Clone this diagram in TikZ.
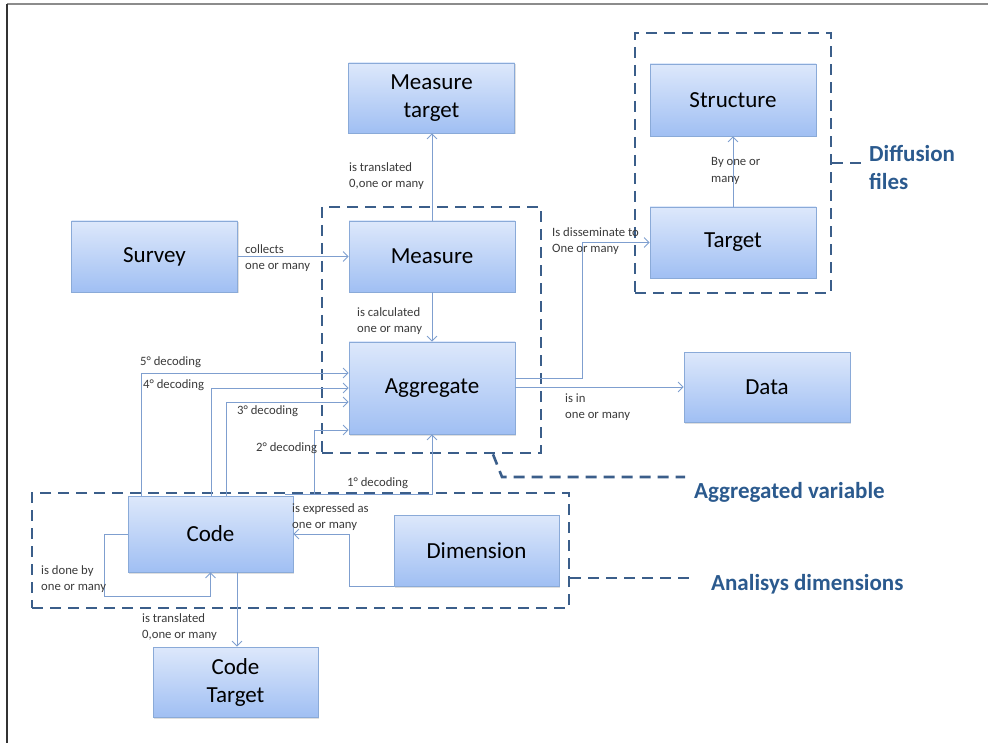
\documentclass[tikz,border=0pt]{standalone}
\usepackage{fontspec}
\setmainfont{Carlito}
\usetikzlibrary{arrows.meta,shadows,calc}
\definecolor{cline}{HTML}{7F9FCF}
\definecolor{cborder}{HTML}{8AAAD8}
\definecolor{ctop}{HTML}{DDE8FB}
\definecolor{cbot}{HTML}{A0BFF3}
\definecolor{cframe}{HTML}{3B5E8A}
\definecolor{ctext}{HTML}{2B5A8E}
\definecolor{clabel}{HTML}{3A3A3A}
\begin{document}
\begin{tikzpicture}[x=1pt,y=-1pt,
  box/.style={draw=cborder, line width=0.8pt, top color=ctop, bottom color=cbot,
    minimum width=166pt, minimum height=71pt, inner sep=0pt, align=center,
    font=\fontsize{23}{28}\selectfont,
    drop shadow={opacity=0.25,shadow xshift=1.2pt,shadow yshift=-1.5pt}},
  frame/.style={draw=cframe, line width=2.6pt, dash pattern=on 11pt off 7pt, inner sep=0pt},
  callout/.style={draw=cframe, line width=2.6pt, dash pattern=on 11pt off 7pt},
  call/.style={font=\bfseries\fontsize{23}{28}\selectfont, text=ctext, align=left, anchor=west, inner sep=0pt},
  conn/.style={draw=cline, line width=0.8pt, -{Straight Barb[length=5pt,width=10pt]}},
  lab/.style={font=\fontsize{12.7}{16.5}\selectfont, text=clabel, align=left, anchor=west, inner sep=0pt}]
\useasboundingbox (0,0) rectangle (988,743);
\draw[black!45, line width=2pt] (7,4.5) -- (988,4.5);
\draw[black!80, line width=1.5pt] (7,4) -- (7,743);

% group frames
\node[frame, minimum width=196pt, minimum height=260pt] (fdiff) at (733,163) {};
\node[frame, minimum width=219pt, minimum height=246pt] (fagg) at (431.5,330) {};
\node[frame, minimum width=537pt, minimum height=115pt] (fana) at (300.5,550.5) {};

% callouts
\node[call] (ldiff) at (869,168) {Diffusion\\files};
\node[call] (lagg) at (694,492) {Aggregated variable};
\node[call] (lana) at (711,584) {Analisys dimensions};
\draw[callout, shorten >=6pt] (fdiff.east) -- (fdiff.east -| ldiff.west);
\draw[callout, shorten >=9pt] (fagg.south -| 493,0) -- (502,477) -- (lagg.west |- 0,477);
\draw[callout, shorten >=16pt] (fana.east |- 0,578) -- (lana.west |- 0,578);

% boxes
\node[box, minimum height=70pt] (mt) at (431.5,98) {Measure\\target};
\node[box] (survey) at (154.5,256.5) {Survey};
\node[box] (measure) at (432,256.5) {Measure};
\node[box, minimum height=92pt] (agg) at (432,388) {Aggregate};
\node[box, minimum height=70pt] (data) at (767,387) {Data};
\node[box, minimum height=72pt] (struct) at (733,100) {Structure};
\node[box] (target) at (733,242.5) {Target};
\node[box, minimum width=165pt, minimum height=76pt] (code) at (210.5,534) {Code};
\node[box, minimum width=165pt] (dim) at (476.5,550.5) {Dimension};
\node[box, minimum width=165pt, minimum height=70pt] (ct) at (235.5,682) {Code\\Target};

% connectors
\draw[conn] (survey) -- (measure);
\draw[conn] (measure.north) -- (measure.north |- mt.south);
\draw[conn] (measure.south) -- (agg.north);
\draw[conn] (agg.east |- 0,378) -- (582,378) |- (target.west);
\draw[conn] (agg.east |- data.west) -- (data.west);
\draw[conn] (target.north) -- (struct.south);
\draw[conn] (code.north -| 141,0) |- (agg.west |- 0,373);
\draw[conn] (code.north -| 211,0) |- (agg.west);
\draw[conn] (code.north -| 226,0) |- (agg.west |- 0,402);
\coordinate (d1) at (285,494);
\coordinate (d2) at (314,494);
\draw[conn] (d1) -| (agg.south);
\draw[conn] (d2) |- (agg.west |- 0,430);
\draw[conn] (code.west) -- ++(-23,0) |- ($(code.south)+(0,24)$) -- (code.south);
\draw[conn] (dim.south west) -| ($(code.east)+(56,0)$) -- (code.east);
\draw[conn] (code.south -| 237,0) -- (ct.north -| 237,0);

% labels
\node[lab] (l1) at (245,258) {collects\\one or many};
\node[lab] (l2) at (349,176) {is translated\\0,one or many};
\node[lab] (l3) at (357,321) {is calculated\\one or many};
\node[lab] (l4) at (552,241) {Is disseminate to\\One or many};
\node[lab] (l5) at (565,407) {is in\\one or many};
\node[lab] (l6) at (711,171) {By one or\\many};
\node[lab] (l7) at (140,362) {5° decoding};
\node[lab] (l8) at (143,385) {4° decoding};
\node[lab] (l9) at (237,411) {3° decoding};
\node[lab] (l10) at (256,448) {2° decoding};
\node[lab] (l11) at (347,483) {1° decoding};
\node[lab] (l12) at (41,579) {is done by\\one or many};
\node[lab] (l13) at (292,517) {is expressed as\\one or many};
\node[lab] (l14) at (142,627) {is translated\\0,one or many};
\end{tikzpicture}
\end{document}
